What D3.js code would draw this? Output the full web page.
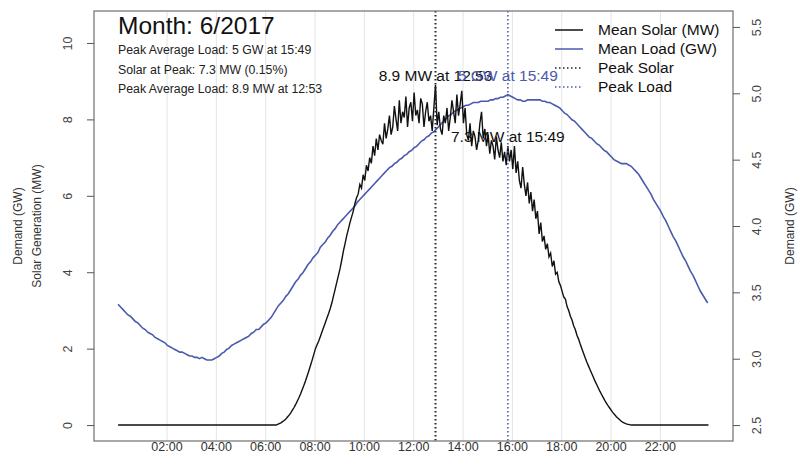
<!DOCTYPE html>
<html><head><meta charset="utf-8">
<script src="https://cdn.jsdelivr.net/npm/d3@7"></script>
<style>
body{margin:0;background:#fff}
svg{display:block}
text{font-family:"Liberation Sans",Arial,Helvetica,sans-serif}
</style>
</head><body>
<svg id="chart" width="803" height="454"></svg>
<script>
// Mean solar generation (MW), one value every 4 minutes from 00:01
const solarStart = 1, solarStep = 4;
const solarMW = [
  0,0,0,0,0,0,0,0,0,0,0,0,0,0,0,
  0,0,0,0,0,0,0,0,0,0,0,0,0,0,0,
  0,0,0,0,0,0,0,0,0,0,0,0,0,0,0,
  0,0,0,0,0,0,0,0,0,0,0,0,0,0,0,
  0,0,0,0,0,0,0,0,0,0,0,0,0,0,0,
  0,0,0,0,0,0,0,0,0,0,0,0,0,0,0,
  0,0,0,0,0,0,0, 0.02,0.04,0.06,0.09,0.12,0.16,0.21,0.26,
  0.32,0.39,0.46,0.54,0.63,0.72,0.82,0.93,1.04,1.16,1.29,1.42,1.56,1.7,1.85,
  2.0,2.1,2.2,2.32,2.44,2.56,2.68,2.8,2.92,3.05,3.2,3.38,3.56,3.74,3.92,
  4.1,4.32,4.55,4.75,4.95,5.12,5.3,5.45,5.6,5.8,5.95,6.05,6.3,6.2,6.55,
  6.4,6.8,6.65,7.0,6.85,7.3,7.05,7.5,7.2,7.6,7.45,7.35,7.9,7.5,7.75,
  8.1,7.6,7.8,8.35,8.0,7.7,8.5,7.9,8.2,8.05,8.6,7.8,8.3,8.45,7.95,
  8.7,8.1,8.25,7.9,8.55,8.4,7.8,8.2,8.45,7.95,8.1,7.7,8.3,8.9,7.85,
  8.2,7.75,7.6,8.1,7.9,8.3,7.7,8.05,8.5,8.2,7.9,8.65,8.1,8.4,8.75,
  7.9,8.3,7.6,7.45,7.9,7.3,7.7,7.55,7.2,7.45,7.9,8.2,7.5,7.75,7.3,
  7.6,7.1,7.45,7.3,6.95,7.55,7.2,7.0,7.4,6.9,7.15,6.8,7.3,6.9,7.2,
  6.7,7.3,6.6,6.9,6.4,6.2,6.75,6.3,6.0,6.35,5.8,6.1,5.6,5.9,5.4,
  5.6,5.0,5.3,4.8,4.95,4.6,4.75,4.4,4.5,4.15,4.3,3.95,4.0,3.75,3.65,
  3.5,3.35,3.3,3.1,3.0,2.85,2.75,2.6,2.5,2.35,2.25,2.12,2.0,1.88,1.76,
  1.65,1.55,1.45,1.35,1.25,1.15,1.06,0.97,0.88,0.8,0.72,0.64,0.57,0.5,0.44,
  0.38,0.32,0.27,0.22,0.18,0.14,0.1,0.07,0.05,0.03,0.02,0.01,0,0,0,
  0,0,0,0,0,0,0,0,0,0,0,0,0,0,0,
  0,0,0,0,0,0,0,0,0,0,0,0,0,0,0,
  0,0,0,0,0,0,0,0,0,0,0,0,0,0,0
];

// Mean load (GW), one value every 6 minutes from 00:01
const loadStart = 1, loadStep = 6;
const loadGW = [
  3.41,3.39,3.37,3.35,3.33,3.32,3.30,3.28,3.27,3.25,
  3.23,3.22,3.20,3.19,3.18,3.16,3.15,3.14,3.13,3.12,
  3.10,3.09,3.08,3.07,3.06,3.05,3.05,3.04,3.03,3.02,
  3.02,3.01,3.01,3.00,3.01,3.00,2.99,2.99,2.99,3.00,
  3.01,3.02,3.04,3.05,3.07,3.08,3.10,3.11,3.12,3.13,
  3.14,3.15,3.16,3.17,3.19,3.20,3.22,3.22,3.24,3.26,
  3.27,3.29,3.31,3.34,3.37,3.40,3.42,3.44,3.47,3.49,
  3.52,3.55,3.58,3.60,3.63,3.65,3.68,3.71,3.73,3.76,
  3.78,3.80,3.84,3.86,3.88,3.91,3.93,3.96,3.98,4.01,
  4.03,4.05,4.07,4.09,4.11,4.13,4.15,4.18,4.20,4.22,
  4.24,4.26,4.28,4.30,4.32,4.34,4.36,4.38,4.40,4.42,
  4.44,4.45,4.47,4.48,4.50,4.51,4.53,4.54,4.56,4.57,
  4.59,4.60,4.62,4.64,4.65,4.67,4.68,4.70,4.71,4.73,
  4.75,4.77,4.79,4.81,4.83,4.84,4.86,4.87,4.88,4.89,
  4.90,4.91,4.91,4.92,4.93,4.93,4.93,4.94,4.94,4.94,
  4.94,4.95,4.95,4.96,4.96,4.97,4.97,4.98,4.99,4.98,
  4.97,4.96,4.95,4.95,4.94,4.94,4.95,4.95,4.95,4.95,
  4.95,4.95,4.94,4.94,4.93,4.93,4.92,4.91,4.90,4.89,
  4.87,4.85,4.84,4.82,4.80,4.79,4.77,4.75,4.73,4.71,
  4.69,4.67,4.66,4.64,4.62,4.61,4.59,4.57,4.56,4.54,
  4.52,4.50,4.49,4.48,4.47,4.47,4.47,4.46,4.45,4.43,
  4.41,4.39,4.36,4.33,4.30,4.27,4.24,4.20,4.17,4.14,
  4.11,4.07,4.04,4.00,3.96,3.92,3.89,3.85,3.81,3.77,
  3.74,3.70,3.66,3.63,3.59,3.55,3.51,3.48,3.45,3.42
];

const hourTicks = ["02:00","04:00","06:00","08:00","10:00","12:00","14:00","16:00","18:00","20:00","22:00"];
const solarTicks = [0, 2, 4, 6, 8, 10];
const loadTicks = [2.5, 3.0, 3.5, 4.0, 4.5, 5.0, 5.5];
const legendLabels = ["Mean Solar (MW)", "Mean Load (GW)", "Peak Solar", "Peak Load"];
const titleText = "Month: 6/2017";
const infoLines = [
  "Peak Average Load: 5 GW at 15:49",
  "Solar at Peak: 7.3 MW (0.15%)",
  "Peak Average Load: 8.9 MW at 12:53"
];

const LOAD_COL = "#4c5aad";
const box = {left: 94, right: 733, top: 11, bottom: 441};
const svg = d3.select("#chart");

const toMin = s => { const [h, m] = s.split(":").map(Number); return h * 60 + m; };
const fmt = m => d3.format("02d")(Math.floor(m / 60)) + ":" + d3.format("02d")(m % 60);
const pad = (lo, hi) => { const e = (hi - lo) * 0.04; return [lo - e, hi + e]; };

const solar = solarMW.map((v, i) => ({t: solarStart + i * solarStep, v}));
const load = loadGW.map((v, i) => ({t: loadStart + i * loadStep, v}));

const x = d3.scaleLinear().domain(pad(0, 1439)).range([box.left, box.right]);
const yS = d3.scaleLinear().domain(pad(0, 10.42)).range([box.bottom, box.top]);
const yL = d3.scaleLinear().domain(pad(2.5, 5.5)).range([box.bottom, box.top]);

// vertical grid every two hours
svg.append("g").selectAll("line").data(hourTicks).join("line")
  .attr("x1", d => x(toMin(d))).attr("x2", d => x(toMin(d)))
  .attr("y1", box.top).attr("y2", box.bottom)
  .attr("stroke", "#e4e4e4").attr("stroke-width", 1);

// peaks
const pS = solar[d3.maxIndex(solar, d => d.v)];
const pL = load[d3.maxIndex(load, d => d.v)];
const solarAtPeak = solar.find(d => d.t === pL.t);

// series
svg.append("path").datum(load)
  .attr("d", d3.line().x(d => x(d.t)).y(d => yL(d.v)))
  .attr("fill", "none").attr("stroke", LOAD_COL).attr("stroke-width", 1.6);
svg.append("path").datum(solar)
  .attr("d", d3.line().x(d => x(d.t)).y(d => yS(d.v)))
  .attr("fill", "none").attr("stroke", "#111").attr("stroke-width", 1.4);

// peak markers
svg.append("line").attr("x1", x(pS.t)).attr("x2", x(pS.t)).attr("y1", box.top).attr("y2", box.bottom)
  .attr("stroke", "#222").attr("stroke-width", 2).attr("stroke-dasharray", "1.5,2.5");
svg.append("line").attr("x1", x(pL.t)).attr("x2", x(pL.t)).attr("y1", box.top).attr("y2", box.bottom)
  .attr("stroke", LOAD_COL).attr("stroke-width", 1.6).attr("stroke-dasharray", "1.5,2.5");

// peak annotations
svg.append("text").attr("x", x(pS.t)).attr("y", yS(pS.v) - 4).attr("text-anchor", "middle")
  .attr("font-size", 15.5).attr("fill", "#111").text(pS.v + " MW at " + fmt(pS.t));
svg.append("text").attr("x", x(pL.t)).attr("y", yS(pS.v) - 4).attr("text-anchor", "middle")
  .attr("font-size", 15.5).attr("fill", LOAD_COL).text(Math.round(pL.v) + " GW at " + fmt(pL.t));
svg.append("text").attr("x", x(pL.t)).attr("y", yS(solarAtPeak.v) - 4).attr("text-anchor", "middle")
  .attr("font-size", 15.5).attr("fill", "#111").text(solarAtPeak.v + " MW at " + fmt(pL.t));

// frame
svg.append("rect").attr("x", box.left).attr("y", box.top)
  .attr("width", box.right - box.left).attr("height", box.bottom - box.top)
  .attr("fill", "none").attr("stroke", "#7a7a7a").attr("stroke-width", 1.3);

// left axis
const gl = svg.append("g").attr("transform", `translate(${box.left},0)`)
  .call(d3.axisLeft(yS).tickValues(solarTicks).tickSize(7).tickFormat(d3.format("d")));
gl.select(".domain").remove();
gl.selectAll("line").attr("stroke", "#555");
gl.selectAll("text").attr("font-size", 12.5).attr("fill", "#444")
  .attr("x", -26).attr("y", 0).attr("dy", "0.35em").attr("text-anchor", "middle")
  .attr("transform", "rotate(-90,-26,0)");

// right axis
const gr = svg.append("g").attr("transform", `translate(${box.right},0)`)
  .call(d3.axisRight(yL).tickValues(loadTicks).tickSize(7).tickFormat(d3.format(".1f")));
gr.select(".domain").remove();
gr.selectAll("line").attr("stroke", "#555");
gr.selectAll("text").attr("font-size", 12.5).attr("fill", "#444")
  .attr("x", 24).attr("y", 0).attr("dy", "0.35em").attr("text-anchor", "middle")
  .attr("transform", "rotate(-90,24,0)");

// bottom axis labels
svg.append("g").selectAll("text").data(hourTicks).join("text")
  .attr("x", d => x(toMin(d))).attr("y", 451).attr("text-anchor", "middle")
  .attr("font-size", 12.5).attr("fill", "#333").text(d => d);

// axis titles
const midY = (box.top + box.bottom) / 2;
svg.append("text").attr("transform", `translate(22,${midY}) rotate(-90)`).attr("text-anchor", "middle")
  .attr("font-size", 12).attr("fill", "#333").text("Demand (GW)");
svg.append("text").attr("transform", `translate(41,${midY}) rotate(-90)`).attr("text-anchor", "middle")
  .attr("font-size", 12).attr("fill", "#333").text("Solar Generation (MW)");
svg.append("text").attr("transform", `translate(794,${midY}) rotate(-90)`).attr("text-anchor", "middle")
  .attr("font-size", 12).attr("fill", "#333").text("Demand (GW)");

// title block
svg.append("text").attr("x", 118).attr("y", 34).attr("font-size", 24.5).attr("fill", "#111").text(titleText);
svg.append("g").selectAll("text").data(infoLines).join("text")
  .attr("x", 118).attr("y", (d, i) => 54 + i * 19.5).attr("font-size", 12.3).attr("fill", "#222").text(d => d);

// legend
const legendStyles = [
  {c: "#111", dash: null}, {c: LOAD_COL, dash: null},
  {c: "#222", dash: "1.5,2.5"}, {c: LOAD_COL, dash: "1.5,2.5"}
];
const lg = svg.append("g").selectAll("g").data(legendLabels).join("g")
  .attr("transform", (d, i) => `translate(0,${30 + i * 19})`);
lg.append("line").attr("x1", 555).attr("x2", 583).attr("y1", 0).attr("y2", 0)
  .attr("stroke", (d, i) => legendStyles[i].c).attr("stroke-width", 1.5)
  .attr("stroke-dasharray", (d, i) => legendStyles[i].dash);
lg.append("text").attr("x", 598).attr("dy", "0.35em").attr("font-size", 15.5).attr("fill", "#111").text(d => d);
</script>
</body></html>
